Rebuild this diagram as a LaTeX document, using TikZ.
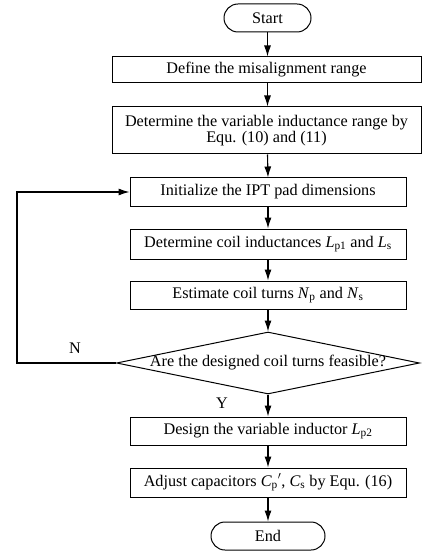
\documentclass[tikz,border=0pt]{standalone}
\usepackage{fontspec}
\setmainfont{Liberation Serif}
\usetikzlibrary{shapes.geometric,arrows.meta}
\begin{document}
\begin{tikzpicture}[x=1pt,y=-1pt,
  every node/.style={font=\fontsize{16.2}{18}\selectfont},
  box/.style={draw,line width=1pt,inner sep=1pt,align=center},
  term/.style={draw,line width=1pt,rounded corners=14pt,inner sep=1pt},
  arr/.style={line width=1.1pt,-{Latex[length=11pt,width=7pt]}}]
\useasboundingbox (0,0) rectangle (422,553);
\node[term,minimum width=87pt,minimum height=28pt] (start) at (267.5,18) {Start};
\node[box,minimum width=309pt,minimum height=26pt] (b1) at (266.5,70) {Define the misalignment range};
\node[box,minimum width=309pt,minimum height=47pt] (b2) at (266.5,130.5) {Determine the variable inductance range by\\[-2pt]Equ. (10) and (11)};
\node[box,minimum width=276pt,minimum height=28pt] (b3) at (268,192) {Initialize the IPT pad dimensions};
\node[box,minimum width=276pt,minimum height=30pt] (b4) at (268,244) {Determine coil inductances \textit{L}\textsubscript{p1} and \textit{L}\textsubscript{s}};
\node[box,minimum width=276pt,minimum height=28pt] (b5) at (268,295) {Estimate coil turns \textit{N}\textsubscript{p} and \textit{N}\textsubscript{s}};
\node[diamond,draw,line width=1pt,inner sep=0pt,aspect=4.9,minimum width=303pt,minimum height=62pt] (d) at (268,363) {};
\node (dt) at (d.center) {Are the designed coil turns feasible?};
\node[box,minimum width=276pt,minimum height=28pt] (b6) at (268,431) {Design the variable inductor \textit{L}\textsubscript{p2}};
\node[box,minimum width=276pt,minimum height=29pt] (b7) at (268,482.5) {Adjust capacitors \textit{C}\textsubscript{p}$'$, \textit{C}\textsubscript{s} by Equ. (16)};
\node[term,minimum width=114pt,minimum height=28pt] (end) at (268,536) {End};
\coordinate (c1) at (17,363);
\coordinate (c2) at (17,192);
\draw[arr] (start.south) -- (start.south |- b1.north);
\draw[arr] (start.south |- b1.south) -- (start.south |- b2.north);
\draw[arr] (start.south |- b2.south) -- (b3.north);
\draw[arr] (b3) -- (b4);
\draw[arr] (b4) -- (b5);
\draw[arr] (b5) -- (d.north);
\draw[arr] (d.south) -- (b6);
\draw[arr] (b6) -- (b7);
\draw[arr] (b7) -- (end);
\draw[arr] (d.west) -- (c1) -- (c2) -- (b3.west);
\node (n) at (75,348) {N};
\node (y) at (222,403) {Y};
\end{tikzpicture}
\end{document}
